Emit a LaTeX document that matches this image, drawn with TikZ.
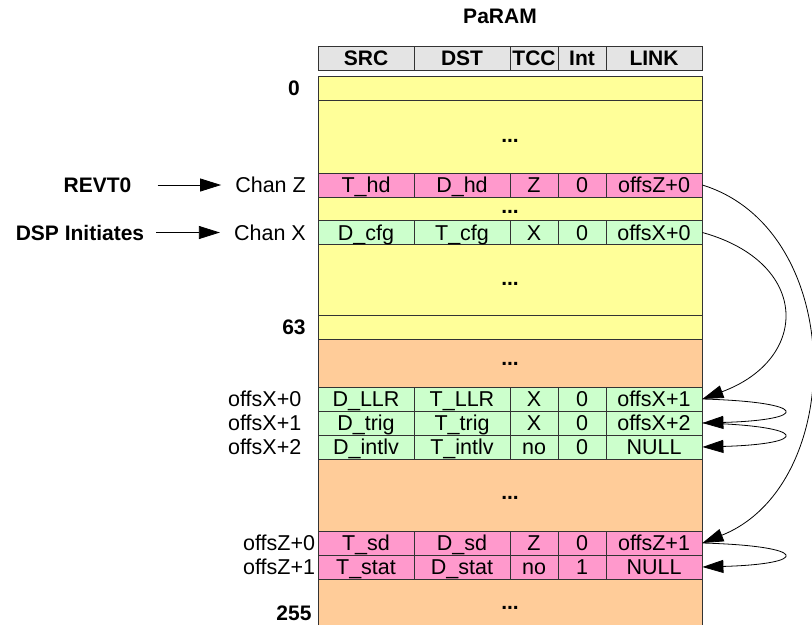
\documentclass[tikz,border=0pt]{standalone}
\usepackage{fontspec}
\setmainfont{Liberation Sans}
\usetikzlibrary{arrows.meta}

\definecolor{hdrgray}{HTML}{E4E4E4}
\definecolor{memyellow}{HTML}{FFFF99}
\definecolor{memorange}{HTML}{FFCC99}
\definecolor{recgreen}{HTML}{CCFFCC}
\definecolor{recpink}{HTML}{FF99CC}
\definecolor{edge}{HTML}{333333}

% one PaRAM entry: name, y centre, fill, SRC, DST, TCC, Int, LINK
\newcommand\paramrow[8]{%
  \node[cell,fill=#3,minimum width=96pt] (#1-src)  at (366,#2) {#4};
  \node[cell,fill=#3,minimum width=96pt] (#1-dst)  at (462,#2) {#5};
  \node[cell,fill=#3,minimum width=48pt] (#1-tcc)  at (534,#2) {#6};
  \node[cell,fill=#3,minimum width=48pt] (#1-int)  at (582,#2) {#7};
  \node[cell,fill=#3,minimum width=96pt] (#1-link) at (654,#2) {#8};}

\newcommand\txtfont{\fontsize{21.5}{25}\selectfont}

\begin{document}
\begin{tikzpicture}[x=1pt,y=-1pt,
  every node/.style={font=\txtfont, inner sep=0pt,
    text height=15.4pt, text depth=0pt},
  cell/.style={draw=edge, line width=0.8pt, minimum height=24pt},
  hcell/.style={cell, fill=hdrgray, font=\fontsize{21}{25}\selectfont\bfseries},
  bold/.style={font=\fontsize{21}{25}\selectfont\bfseries},
  dots/.style={bold},
  link/.style={draw=black, line width=0.8pt, -{Triangle[length=21pt,width=13pt]}},
  area/.style={draw=edge, line width=0.8pt}]

\useasboundingbox (0,0) rectangle (812,625);

% title and column header
\node[bold] (title) at (500,15.5) {PaRAM};
\node[hcell,minimum width=96pt] (h-src)  at (366,58) {SRC};
\node[hcell,minimum width=96pt] (h-dst)  at (462,58) {DST};
\node[hcell,minimum width=48pt] (h-tcc)  at (534,58) {TCC};
\node[hcell,minimum width=48pt] (h-int)  at (582,58) {Int};
\node[hcell,minimum width=96pt] (h-link) at (654,58) {LINK};

% memory areas
\fill[memorange] (318,339) rectangle (702,625);
\draw[area] (318,625) -- (318,339) (702,339) -- (702,625);
\filldraw[area, fill=memyellow] (318,76) rectangle (702,339);
\draw[area] (318,100) -- (702,100);
\draw[area] (318,315) -- (702,315);

% ellipsis marks
\node[dots] (d1) at (510,134.5) {...};
\node[dots] (d2) at (510,206) {...};
\node[dots] (d3) at (510,278) {...};
\node[dots] (d4) at (510,358) {...};
\node[dots] (d5) at (510,492) {...};
\node[dots] (d6) at (510,602) {...};

% parameter entries
\paramrow{cz}{185}{recpink}{T\_hd}{D\_hd}{Z}{0}{offsZ+0}
\paramrow{cx}{232.5}{recgreen}{D\_cfg}{T\_cfg}{X}{0}{offsX+0}
\paramrow{x0}{399}{recgreen}{D\_LLR}{T\_LLR}{X}{0}{offsX+1}
\paramrow{x1}{423}{recgreen}{D\_trig}{T\_trig}{X}{0}{offsX+2}
\paramrow{x2}{447}{recgreen}{D\_intlv}{T\_intlv}{no}{0}{NULL}
\paramrow{z0}{543}{recpink}{T\_sd}{D\_sd}{Z}{0}{offsZ+1}
\paramrow{z1}{567}{recpink}{T\_stat}{D\_stat}{no}{1}{NULL}

% entry numbers
\node[bold] (n0)   at (294,88)  {0};
\node[bold] (n63)  at (294,327) {63};
\node[bold] (n255) at (294,613) {255};
\node[anchor=west] (lx0) at (228,399) {offsX+0};
\node[anchor=west] (lx1) at (228,423) {offsX+1};
\node[anchor=west] (lx2) at (228,447) {offsX+2};
\node[anchor=west] (lz0) at (243,543) {offsZ+0};
\node[anchor=west] (lz1) at (243,567) {offsZ+1};

% channel triggers
\node[anchor=east] (chz) at (306,185) {Chan Z};
\node[anchor=east] (chx) at (306,232.5) {Chan X};
\node[bold] (revt) at (97.5,185) {REVT0};
\node[bold] (dsp)  at (80,232.5) {DSP Initiates};
\draw[link, shorten <=26pt, shorten >=14pt] (revt.east) -- (chz.west);
\draw[link, shorten <=12pt, shorten >=14pt] (dsp.east) -- (chx.west);

% link chains
\draw[link] (cz-link.east) .. controls +(145,45) and +(145,-58) .. (z0-link.east);
\draw[link] (cx-link.east) .. controls +(108,30) and +(108,-40) .. (x0-link.east);
\draw[link] (x0-link.east) .. controls +(108,3) and +(108,-3) .. (x1-link.east);
\draw[link] (x1-link.east) .. controls +(108,3) and +(108,-3) .. (x2-link.east);
\draw[link] (z0-link.east) .. controls +(108,3) and +(108,-3) .. (z1-link.east);
\end{tikzpicture}
\end{document}
